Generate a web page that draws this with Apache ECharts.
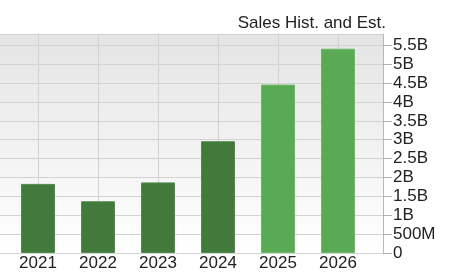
<!DOCTYPE html>
<html>
<head>
<meta charset="utf-8">
<script src="https://cdn.jsdelivr.net/npm/echarts@6/dist/echarts.min.js"></script>
<style>
html,body{margin:0;padding:0;background:#fff;}
#chart{width:449px;height:275px;}
</style>
</head>
<body>
<div id="chart"></div>
<script>
var chartTitle = 'Sales Hist. and Est.';
var categories = ['2021', '2022', '2023', '2024', '2025', '2026'];
var salesValues = [1.83e9, 1.37e9, 1.87e9, 2.96e9, 4.46e9, 5.41e9];
var isEstimate = [false, false, false, false, true, true];
var yTickValues = [0, 5e8, 1e9, 1.5e9, 2e9, 2.5e9, 3e9, 3.5e9, 4e9, 4.5e9, 5e9, 5.5e9];

var histColor = '#417a3a';
var estColor = '#5aaa55';

function fmtY(v) {
  if (v === 0) return '0';
  if (v >= 1e9) return (Math.round(v / 1e8) / 10) + 'B';
  return (v / 1e6) + 'M';
}

var catIdx = categories.map(function (c, i) { return i; });
var barData = salesValues.map(function (v, i) {
  return {
    value: [i, v],
    itemStyle: {
      color: isEstimate[i] ? estColor : histColor,
      borderColor: isEstimate[i] ? '#6bb866' : '#538a4c',
      borderWidth: 1
    }
  };
});

var chart = echarts.init(document.getElementById('chart'), null, {renderer: 'canvas'});
var font = '"Liberation Sans", Arial, Helvetica, sans-serif';
chart.setOption({
  animation: false,
  textStyle: {fontFamily: font},
  title: {
    text: chartTitle,
    right: 58,
    top: 10,
    textStyle: {fontSize: 17, fontWeight: 'normal', color: '#222', fontFamily: font}
  },
  grid: {
    left: 0, right: 66, top: 34, bottom: 22,
    show: true,
    borderWidth: 0,
    backgroundColor: new echarts.graphic.LinearGradient(0, 0, 0, 1, [
      {offset: 0, color: '#e4e4e4'},
      {offset: 1, color: '#ffffff'}
    ])
  },
  xAxis: [{
    type: 'value',
    min: -0.6333,
    max: 5.75,
    axisLine: {show: false, onZero: false},
    axisTick: {show: false, customValues: catIdx},
    axisLabel: {
      customValues: catIdx,
      formatter: function (v) { return categories[Math.round(v)]; },
      fontSize: 17, color: '#222', margin: 2, fontFamily: font
    },
    splitLine: {show: true, lineStyle: {color: '#d2d2d2', width: 1}}
  }, {
    type: 'value',
    position: 'top',
    min: -0.6333,
    max: 5.75,
    axisLine: {show: true, onZero: false, lineStyle: {color: '#cfcfcf', width: 1}},
    axisTick: {show: false},
    axisLabel: {show: false},
    splitLine: {show: false}
  }],
  yAxis: {
    type: 'value',
    position: 'right',
    min: 0,
    max: 5.8e9,
    axisLine: {show: true, onZero: false, lineStyle: {color: '#b8b8b8', width: 1}},
    axisTick: {show: true, inside: false, length: 9, customValues: yTickValues, lineStyle: {color: '#b0b0b0', width: 1}},
    axisLabel: {
      customValues: yTickValues,
      formatter: fmtY,
      fontSize: 17, color: '#222', margin: 10, fontFamily: font
    },
    splitLine: {show: true, lineStyle: {color: '#d2d2d2', width: 1}}
  },
  series: [{
    type: 'bar',
    xAxisIndex: 0,
    barWidth: 34,
    data: barData
  }]
});
</script>
</body>
</html>
